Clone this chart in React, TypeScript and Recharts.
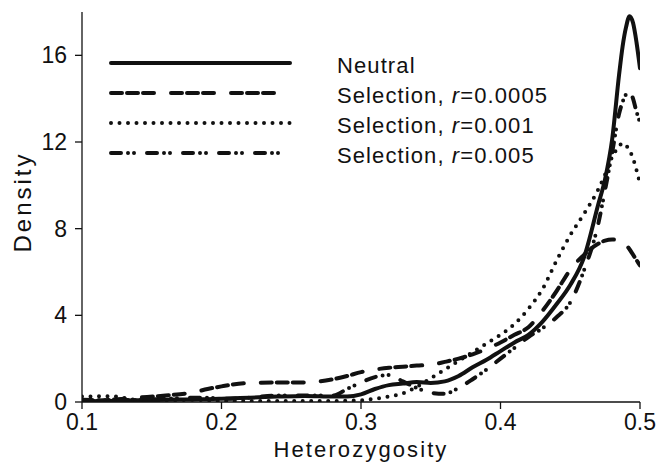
import React from 'react';
import { LineChart, Line, XAxis, YAxis, Customized } from 'recharts';

const hValues = [0.10, 0.12, 0.14, 0.16, 0.18, 0.19, 0.20, 0.22, 0.24, 0.26, 0.28, 0.29, 0.30, 0.31, 0.32, 0.33, 0.34, 0.35, 0.36, 0.37, 0.38, 0.39, 0.40, 0.41, 0.42, 0.43, 0.44, 0.45, 0.46, 0.47, 0.475, 0.48, 0.485, 0.4875, 0.49, 0.4925, 0.495, 0.4975, 0.50];
const neutral = [0.03, 0.05, 0.08, 0.1, 0.12, 0.13, 0.15, 0.2, 0.25, 0.28, 0.25, 0.25, 0.35, 0.6, 0.78, 0.85, 0.92, 0.88, 0.95, 1.2, 1.6, 1.95, 2.35, 2.75, 3.1, 3.7, 4.5, 5.4, 6.7, 9.1, 10.3, 12.1, 15.1, 16.4, 17.3, 17.8, 17.5, 16.6, 15.4];
const sel0005 = [0.05, 0.1, 0.2, 0.3, 0.45, 0.6, 0.72, 0.88, 0.9, 0.9, 1.05, 1.2, 1.38, 1.5, 1.58, 1.63, 1.68, 1.72, 1.85, 2.0, 2.2, 2.45, 2.75, 3.1, 3.45, 4.2, 5.1, 6.1, 6.8, 7.3, 7.45, 7.5, 7.45, 7.35, 7.25, 7.05, 6.8, 6.55, 6.3];
const sel001 = [0.25, 0.27, 0.1, 0.08, 0.1, 0.08, 0.05, 0.05, 0.05, 0.05, 0.05, 0.06, 0.08, 0.15, 0.25, 0.4, 0.7, 1.1, 1.5, 1.9, 2.3, 2.7, 3.1, 3.6, 4.3, 5.2, 6.5, 7.7, 8.7, 9.8, 10.5, 11.3, 11.8, 11.95, 11.85, 11.6, 11.25, 10.7, 10.1];
const sel005 = [0.1, 0.08, 0.1, 0.15, 0.2, 0.2, 0.15, 0.2, 0.3, 0.3, 0.3, 0.6, 0.9, 1.15, 1.25, 0.95, 0.65, 0.42, 0.38, 0.65, 1.05, 1.5, 2.0, 2.5, 3.0, 3.4, 3.9, 4.6, 6.1, 8.2, 9.8, 11.5, 13.3, 13.85, 14.2, 14.35, 14.0, 13.4, 12.9];

const xTicks = [0.1, 0.2, 0.3, 0.4, 0.5];
const yTicks = [0, 4, 8, 12, 16];
const seriesKeys = ['neutral', 'sel0005', 'sel001', 'sel005'];
const legendPrefix = ['Neutral', 'Selection, ', 'Selection, ', 'Selection, '];
const legendR = ['', '0.0005', '0.001', '0.005'];

const data = hValues.map((h, i) => ({
  h,
  neutral: neutral[i],
  sel0005: sel0005[i],
  sel001: sel001[i],
  sel005: sel005[i],
}));

const FONT = '"Liberation Sans", Arial, Helvetica, sans-serif';
const INK = '#111';
const dashes: (string | undefined)[] = [undefined, '11 5 11 5 11 17', '0 8.5', '10 7 0 6 0 13'];

const LegendBlock = () => (
  <g>
    {seriesKeys.map((k, i) => {
      const y = 63 + 30 * i;
      return (
        <g key={k}>
          <line x1={111} x2={290} y1={y} y2={y} stroke={INK} strokeWidth={4}
            strokeLinecap="round" strokeDasharray={dashes[i]} />
          <text x={337} y={y + 9.5} fontFamily={FONT} fontSize={22} letterSpacing={1.1} fill={INK}>
            {legendPrefix[i]}
            {legendR[i] ? <tspan fontStyle="italic">r</tspan> : null}
            {legendR[i] ? '=' + legendR[i] : null}
          </text>
        </g>
      );
    })}
  </g>
);

const YTitle = (props: any) => {
  const vb = props.viewBox || { x: 22, y: 12, width: 60, height: 390 };
  const cx = vb.x + 0;
  const cy = vb.y + vb.height / 2 - 5;
  return (
    <text x={cx} y={cy} transform={`rotate(-90 ${cx} ${cy})`} textAnchor="middle"
      dominantBaseline="central" fontFamily={FONT} fontSize={24} letterSpacing={3} fill={INK}>
      Density
    </text>
  );
};

const XTitle = (props: any) => {
  const vb = props.viewBox || { x: 82, y: 402, width: 558, height: 60 };
  const cx = vb.x + vb.width / 2;
  return (
    <text x={cx} y={vb.y + 55} textAnchor="middle" fontFamily={FONT} fontSize={22}
      letterSpacing={2.1} fill={INK}>
      Heterozygosity
    </text>
  );
};

export default function App() {
  return (
    <div style={{ position: 'absolute', left: 0, top: 0, width: 656, height: 462, background: '#fff' }}>
      <LineChart width={656} height={462} data={data} margin={{ top: 12, right: 16, bottom: 0, left: 22 }}>
        <XAxis dataKey="h" type="number" domain={[0.1, 0.5]} ticks={xTicks} height={60}
          tickFormatter={(v: number) => v.toFixed(1)} tickSize={7} tickMargin={5}
          stroke={INK} strokeWidth={1.3} allowDataOverflow
          tick={{ fontFamily: FONT, fontSize: 23, fill: INK }} label={<XTitle />} />
        <XAxis xAxisId="top" orientation="top" type="number" domain={[0.1, 0.5]} height={0}
          tick={false} tickLine={false} stroke={INK} strokeWidth={1.3} />
        <YAxis type="number" domain={[0, 18]} ticks={yTicks} width={60} tickSize={7} tickMargin={8}
          stroke={INK} strokeWidth={1.3} allowDataOverflow
          tick={{ fontFamily: FONT, fontSize: 23, fill: INK }} label={<YTitle />} />
        <YAxis yAxisId="right" orientation="right" type="number" domain={[0, 18]} width={0}
          tick={false} tickLine={false} stroke={INK} strokeWidth={1.3} />
        {seriesKeys.map((k, i) => (
          <Line key={k} dataKey={k} type="monotone" stroke={INK} strokeWidth={4}
            strokeLinecap="round" strokeDasharray={dashes[i]} dot={false} activeDot={false}
            isAnimationActive={false} />
        ))}
        <Customized component={LegendBlock} />
      </LineChart>
    </div>
  );
}
